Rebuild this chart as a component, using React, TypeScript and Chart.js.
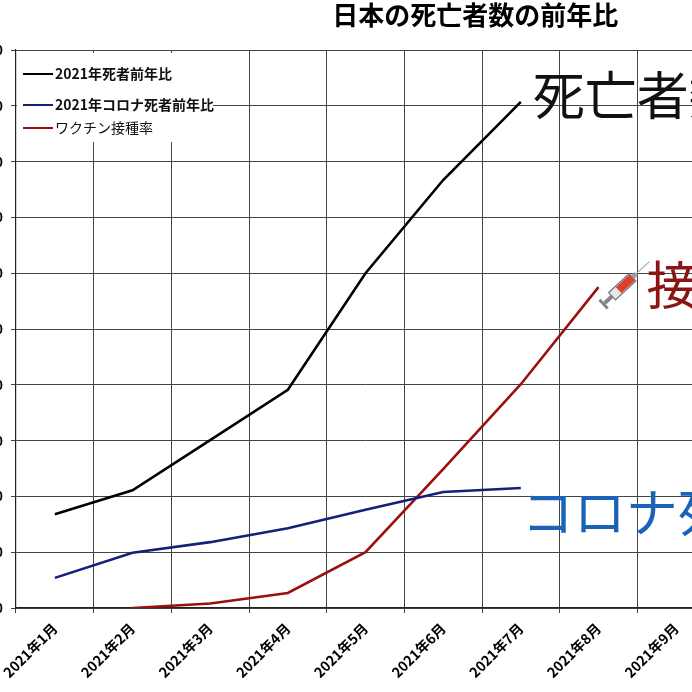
import { useEffect, useRef } from "react"
import { Chart, registerables, type ChartConfiguration, type Plugin } from "chart.js"

Chart.register(...registerables)

const months = [
  "2021年1月",
  "2021年2月",
  "2021年3月",
  "2021年4月",
  "2021年5月",
  "2021年6月",
  "2021年7月",
  "2021年8月",
  "2021年9月",
]

// values (y axis 0..100, labels cropped in the original)
const deathsRatio = [16.8, 21.1, 30.1, 39.1, 60.0, 76.7, 90.7, null, null]
const covidDeathsRatio = [5.4, 9.9, 11.8, 14.3, 17.6, 20.8, 21.5, null, null]
const vaccinationRate = [null, 0, 0.8, 2.7, 10.0, 24.9, 40.1, 57.5, null]

const seriesNames = ["2021年死者前年比", "2021年コロナ死者前年比", "ワクチン接種率"]
const seriesColors = ["#000000", "#14207a", "#9a1010"]

const calloutTexts = ["死亡者数", "コロナ死者数", "接種率"]
const calloutColors = ["#111111", "#1b63b8", "#8a1515"]

const title = "日本の死亡者数の前年比"

const yMin = 0
const yMax = 100
const yStep = 10

const JP = '"Noto Sans CJK JP", "Noto Sans", sans-serif'

const titlePlugin: Plugin = {
  id: "customTitle",
  afterDraw(chart) {
    const { ctx, chartArea } = chart
    ctx.save()
    ctx.font = `bold 26px ${JP}`
    ctx.fillStyle = "#000"
    ctx.textAlign = "center"
    ctx.textBaseline = "middle"
    const x = chartArea.left + (chartArea.right - chartArea.left) * 0.657
    ctx.fillText(title, x, 15)
    ctx.restore()
  },
}

const legendPlugin: Plugin = {
  id: "insideLegend",
  afterDraw(chart) {
    const { ctx, chartArea } = chart
    const left = chartArea.left + 1
    const top = chartArea.top + 3
    ctx.save()
    ctx.fillStyle = "#fff"
    ctx.fillRect(left, top, 196, 89)
    const rows = [24, 55, 78]
    seriesNames.forEach((name, i) => {
      const y = chartArea.top + rows[i]
      ctx.strokeStyle = seriesColors[i]
      ctx.lineWidth = 2
      ctx.beginPath()
      ctx.moveTo(left + 6, y)
      ctx.lineTo(left + 36, y)
      ctx.stroke()
      ctx.fillStyle = "#111"
      ctx.font = `${i < 2 ? "bold " : ""}14px ${JP}`
      ctx.textAlign = "left"
      ctx.textBaseline = "middle"
      ctx.fillText(name, left + 38, y)
    })
    ctx.restore()
  },
}

function drawSyringe(ctx: CanvasRenderingContext2D, x: number, y: number) {
  ctx.save()
  ctx.translate(x, y)
  ctx.rotate(-0.75)
  // plunger handle + rod
  ctx.fillStyle = "#7f858c"
  ctx.fillRect(0, -6, 3, 12)
  ctx.fillRect(3, -2, 10, 4)
  // barrel
  ctx.fillStyle = "#e6e7ea"
  ctx.fillRect(13, -5, 28, 10)
  ctx.fillStyle = "#dd3f28"
  ctx.fillRect(22, -4, 19, 8)
  ctx.strokeStyle = "#737880"
  ctx.lineWidth = 1.2
  ctx.strokeRect(13, -5, 28, 10)
  // hub + needle
  ctx.fillStyle = "#9aa0a6"
  ctx.fillRect(41, -2.5, 5, 5)
  ctx.strokeStyle = "#a0a4a8"
  ctx.lineWidth = 1
  ctx.beginPath()
  ctx.moveTo(46, 0)
  ctx.lineTo(64, 0)
  ctx.stroke()
  ctx.restore()
}

const calloutPlugin: Plugin = {
  id: "callouts",
  afterDatasetsDraw(chart) {
    const { ctx } = chart
    const offsets = [
      [12, -7],
      [1, 24],
      [48, -2],
    ]
    ctx.save()
    chart.data.datasets.forEach((ds, i) => {
      const data = ds.data as (number | null)[]
      let last = -1
      data.forEach((v, j) => {
        if (v !== null) last = j
      })
      if (last < 0) return
      const meta = chart.getDatasetMeta(i)
      const pt = meta.data[last]
      ctx.font = `52px ${JP}`
      ctx.fillStyle = calloutColors[i]
      ctx.textAlign = "left"
      ctx.textBaseline = "middle"
      ctx.fillText(calloutTexts[i], pt.x + offsets[i][0], pt.y + offsets[i][1])
      if (i === 2) drawSyringe(ctx, pt.x + 4, pt.y + 18)
    })
    ctx.restore()
  },
}

export default function App() {
  const canvasRef = useRef<HTMLCanvasElement>(null)
  const chartRef = useRef<Chart | null>(null)

  useEffect(() => {
    if (!canvasRef.current) return
    if (chartRef.current) chartRef.current.destroy()

    const config: ChartConfiguration = {
      type: "line",
      data: {
        labels: months,
        datasets: [
          {
            label: seriesNames[0],
            data: deathsRatio,
            borderColor: seriesColors[0],
            borderWidth: 2.6,
            pointRadius: 0,
            tension: 0,
          },
          {
            label: seriesNames[1],
            data: covidDeathsRatio,
            borderColor: seriesColors[1],
            borderWidth: 2.6,
            pointRadius: 0,
            tension: 0,
          },
          {
            label: seriesNames[2],
            data: vaccinationRate,
            borderColor: seriesColors[2],
            borderWidth: 2.6,
            pointRadius: 0,
            tension: 0,
          },
        ],
      },
      options: {
        responsive: false,
        animation: false,
        layout: { padding: { top: 50, right: 25, left: 0, bottom: 0 } },
        plugins: {
          legend: { display: false },
          title: { display: false },
          tooltip: { enabled: false },
        },
        scales: {
          x: {
            offset: true,
            grid: { offset: true, color: "#444", lineWidth: 1, tickLength: 5 },
            border: { color: "#222", width: 1.2 },
            ticks: {
              minRotation: 45,
              maxRotation: 45,
              padding: 7,
              color: "#000",
              font: { family: JP, size: 14, weight: "bold" },
            },
            afterFit(scale) {
              scale.height = 84
            },
          },
          y: {
            min: yMin,
            max: yMax,
            grid: { color: "#444", lineWidth: 1, tickLength: 5 },
            border: { color: "#222", width: 1.2 },
            ticks: {
              stepSize: yStep,
              padding: 8,
              color: "#000",
              font: { family: JP, size: 13, weight: "bold" },
            },
            afterFit(scale) {
              scale.width = 56
            },
          },
        },
      },
      plugins: [titlePlugin, legendPlugin, calloutPlugin],
    }

    chartRef.current = new Chart(canvasRef.current, config)

    return () => {
      if (chartRef.current) chartRef.current.destroy()
    }
  }, [])

  return (
    <div
      style={{
        position: "fixed",
        left: 0,
        top: 0,
        width: 692,
        height: 692,
        overflow: "hidden",
        background: "#fff",
      }}
    >
      <canvas
        ref={canvasRef}
        width={780}
        height={692}
        style={{ position: "absolute", left: -40, top: 0, width: 780, height: 692 }}
      />
    </div>
  )
}
